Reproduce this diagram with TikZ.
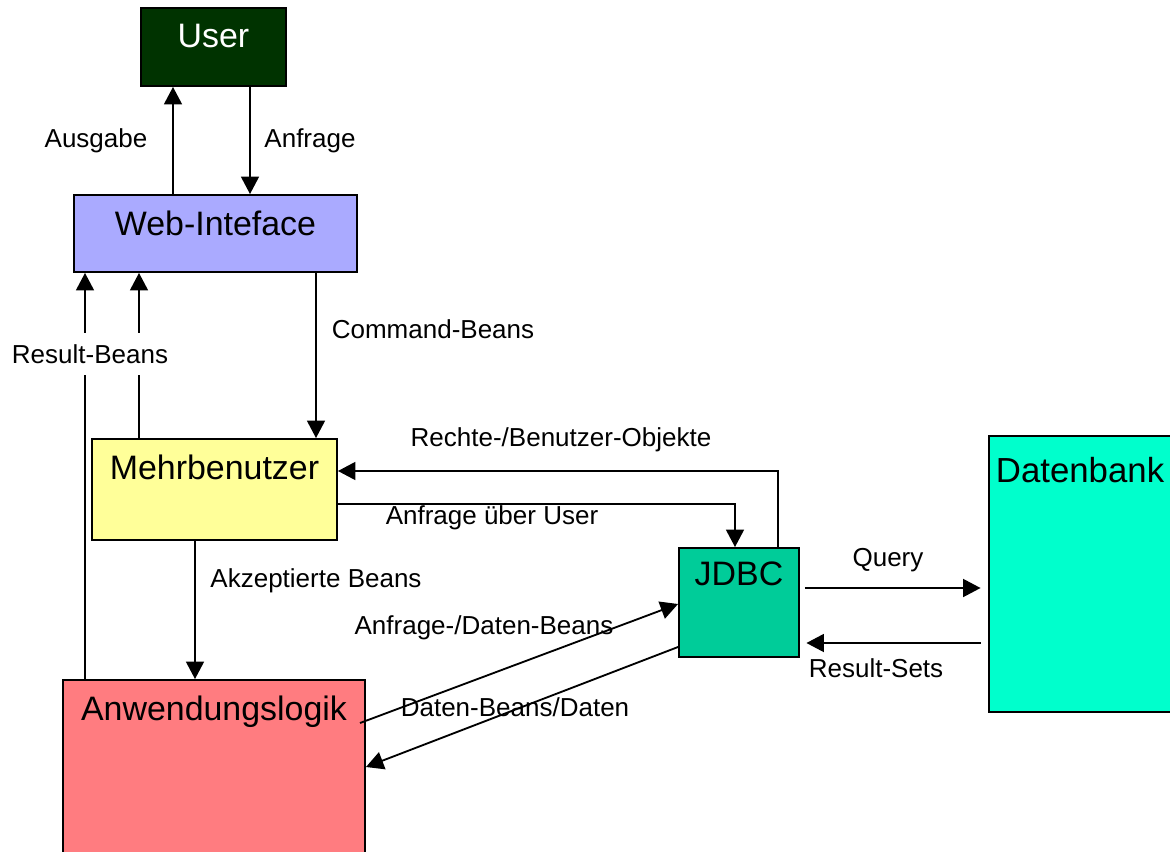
\documentclass[tikz,border=0pt]{standalone}
\usepackage{fontspec}
\setmainfont{Liberation Sans}
\usetikzlibrary{arrows.meta}

\definecolor{usergreen}{HTML}{003300}
\definecolor{webblue}{HTML}{AAAAFF}
\definecolor{mehryellow}{HTML}{FFFF99}
\definecolor{anwred}{HTML}{FF7C80}
\definecolor{jdbcgreen}{HTML}{00CC99}
\definecolor{dbcyan}{HTML}{00FFCC}

\tikzset{
  box/.style={draw, line width=1.1pt, inner sep=0pt},
  boxtext/.style={anchor=north, inner xsep=0pt, inner ysep=0.34cm, font=\fontsize{19.3}{22}\selectfont},
  flow/.style={-{Triangle[length=3.5mm,width=3.6mm]}, line width=1.05pt},
  lbl/.style={font=\fontsize{14.8}{17}\selectfont}
}

\begin{document}
\begin{tikzpicture}[x=0.02cm, y=-0.02cm]
\useasboundingbox (0,0) rectangle (1170,852);

% boxes
\node[box, fill=usergreen, minimum width=2.9cm, minimum height=1.56cm,
  label={[boxtext, text=white]north:User}] (user) at (213.5,47) {};
\node[box, fill=webblue, minimum width=5.66cm, minimum height=1.54cm,
  label={[boxtext]north:Web-Inteface}] (web) at (215.5,233.5) {};
\node[box, fill=mehryellow, minimum width=4.9cm, minimum height=2.02cm,
  label={[boxtext]north:Mehrbenutzer}] (mehr) at (214.5,489.5) {};
\node[box, fill=anwred, minimum width=6.04cm, minimum height=3.8cm,
  label={[boxtext]north:Anwendungslogik}] (anw) at (214,775) {};
\node[box, fill=jdbcgreen, minimum width=2.4cm, minimum height=2.18cm,
  label={[boxtext, inner ysep=0.28cm]north:JDBC}] (jdbc) at (739,602.5) {};
\node[box, fill=dbcyan, minimum width=4.02cm, minimum height=5.52cm,
  label={[boxtext, anchor=north west, inner xsep=0.15cm, inner ysep=0.44cm, font=\fontsize{19.8}{22}\selectfont]north west:Datenbank}] (db) at (1089.5,574) {};

% connectors
\draw[flow] (173,0 |- web.north) -- (173,0 |- user.south);
\draw[flow] (250,0 |- user.south) -- (250,0 |- web.north);
\draw[flow] (85,0 |- anw.north) -- (85,0 |- web.south);
\draw[flow] (139,0 |- mehr.north) -- (139,0 |- web.south);
\draw[flow] (316,0 |- web.south) -- (316,0 |- mehr.north);
\draw[flow] (195,0 |- mehr.south) -- (195,0 |- anw.north);
\draw[flow] (778,0 |- jdbc.north) |- (mehr.east |- 0,471);
\draw[flow] (mehr.east |- 0,504) -| (735,0 |- jdbc.north);
\draw[flow] (360,723) -- (jdbc.west |- 0,604);
\draw[flow] (jdbc.west |- 0,647) -- (anw.east |- 0,767);
\draw[flow, shorten <=1mm, shorten >=1.5mm] (jdbc.east |- 0,588) -- (db.west |- 0,588);
\draw[flow, shorten <=1.5mm, shorten >=1.3mm] (db.west |- 0,643) -- (jdbc.east |- 0,643);

% labels
\node[lbl] (ausgabe) at (96,141) {Ausgabe};
\node[lbl] (anfrage) at (310,141) {Anfrage};
\node[lbl, fill=white, inner xsep=1pt, inner ysep=0.23cm] (resultbeans) at (90,354) {Result-Beans};
\node[lbl] (commandbeans) at (433,329) {Command-Beans};
\node[lbl] (rechte) at (561,440) {Rechte-/Benutzer-Objekte};
\node[lbl] (anfrageuser) at (492,518) {Anfrage über User};
\node[lbl] (akzeptiert) at (316,581) {Akzeptierte Beans};
\node[lbl] (anfragedaten) at (484,628) {Anfrage-/Daten-Beans};
\node[lbl] (datenbeans) at (515,707) {Daten-Beans/Daten};
\node[lbl] (query) at (888,560) {Query};
\node[lbl] (resultsets) at (876,668) {Result-Sets};
\end{tikzpicture}
\end{document}
